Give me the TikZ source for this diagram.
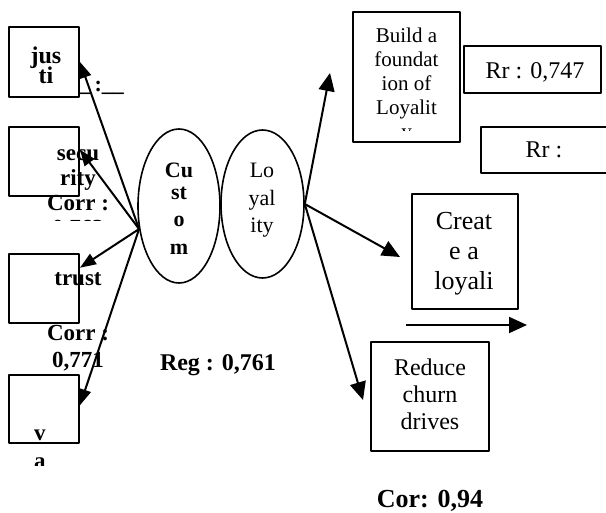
\documentclass[tikz,border=0pt]{standalone}
\usepackage{fontspec}
\setmainfont{Liberation Serif}
\usetikzlibrary{arrows.meta,shapes.geometric}

\begin{document}
\begin{tikzpicture}[x=0.5pt,y=-0.5pt,line join=round,
  box/.style={draw,line width=1pt,inner sep=0pt,minimum width=35pt,minimum height=35pt},
  oval/.style={ellipse,draw,line width=0.8pt,inner sep=0pt,minimum width=41pt,minimum height=76pt},
  txt/.style={align=center,inner sep=0pt},
  bld/.style={txt,font=\bfseries\fontsize{11.5}{12.5}\selectfont},
  arrL/.style={-{Triangle[length=8pt,width=6pt]},line width=1pt},
  arrR/.style={-{Triangle[length=9pt,width=8pt]},line width=1pt}]
  \useasboundingbox (0,0) rectangle (606,513);

  % left boxes
  \node[box] (justi) at (44,62) {};
  \node[box,minimum height=34.5pt] (secu) at (44,161.5) {};
  \node[box,minimum height=34.5pt] (trust) at (44,288.5) {};
  \node[box,minimum height=34pt] (va) at (44,409) {};

  % the two ovals
  \node[oval,minimum height=77pt] (custom) at (179,206) {};
  \node[oval,minimum width=41.5pt,minimum height=74pt] (loyal) at (262.5,204) {};

  % right boxes
  \node[box,minimum width=53.5pt,minimum height=65pt] (build) at (406.5,77) {};
  \node[box,minimum width=68.5pt,minimum height=23.5pt] (rrA) at (532.5,69.5) {};
  \node[box,minimum width=79.5pt,minimum height=23pt] (rrB) at (560.5,150) {};
  \node[box,minimum width=53pt,minimum height=57.5pt] (create) at (465,251.5) {};
  \node[box,minimum width=59pt,minimum height=54.5pt] (reduce) at (430,396.5) {};

  % texts
  \node[txt,font={\bfseries\fontsize{12}{10}\selectfont\lineskiplimit-20pt\relax}] (tJusti) at (46,65) {jus\\ti};
  \node[bld,font=\bfseries\fontsize{11}{11}\selectfont] (tDash) at (102,88) {\_\,:\_\_};
  \begin{scope}
    \clip (0,0) rectangle (200,221);
    \node[bld] (tSecu) at (78,194) {secu\\rity\\Corr :\\0,763};
  \end{scope}
  \node[bld,font=\bfseries\fontsize{11.5}{13.75}\selectfont] (tTrust) at (78,322) {trust\\[13.75pt]Corr :\\0,771};
  \begin{scope}
    \clip (0,380) rectangle (120,466);
    \node[bld,font=\bfseries\fontsize{11.5}{14}\selectfont] (tVa) at (40,449.5) {v\\a};
  \end{scope}
  \node[txt,font=\bfseries\fontsize{11}{11}\selectfont] (tCustom) at (179,209) {Cu\\st\\[2.5pt]o\\[3pt]m};
  \node[txt,font=\fontsize{11}{13.75}\selectfont] (tLoyal) at (262,200.6) {Lo\\yal\\ity};
  \begin{scope}
    \clip (340,0) rectangle (470,131);
    \node[txt,font=\fontsize{10.5}{12}\selectfont] (tBuild) at (406.5,85.2) {Build a\\foundat\\ion of\\Loyalit\\y};
  \end{scope}
  \node[txt,anchor=base,font=\fontsize{12}{14}\selectfont] (tRrA) at (535,79) {Rr : 0,747};
  \node[txt,anchor=base,font=\fontsize{12}{14}\selectfont] (tRrB) at (544,158) {Rr :};
  \node[txt,font=\fontsize{13}{15.25}\selectfont] (tCreate) at (464,253.7) {Creat\\e a\\loyali};
  \node[txt,font=\fontsize{12}{13.5}\selectfont] (tReduce) at (430,393.8) {Reduce\\churn\\drives};
  \node[txt,anchor=base,font=\bfseries\fontsize{12}{14}\selectfont] (tReg) at (218,371) {Reg : 0,761};
  \node[txt,anchor=base,font=\bfseries\fontsize{13}{15}\selectfont] (tCor) at (430,508) {Cor: 0,94};

  % connectors
  \coordinate (hubL) at (custom.210);
  \draw[arrL] (hubL) -- (justi.east);
  \draw[arrL] (hubL) -- (secu.18);
  \draw[arrL] (hubL) -- (trust.30);
  \draw[arrL] (hubL) -- (va.6);

  \coordinate (upTip) at (330,73);
  \coordinate (createTip) at (400,257);
  \coordinate (reduceTip) at (363,400);
  \draw[arrR] (loyal.east) -- (upTip);
  \draw[arrR] (loyal.east) -- (createTip);
  \draw[arrR] (loyal.east) -- (reduceTip);

  \coordinate (flowA) at (406,325);
  \coordinate (flowB) at (527,325);
  \draw[arrR] (flowA) -- (flowB);
\end{tikzpicture}
\end{document}
